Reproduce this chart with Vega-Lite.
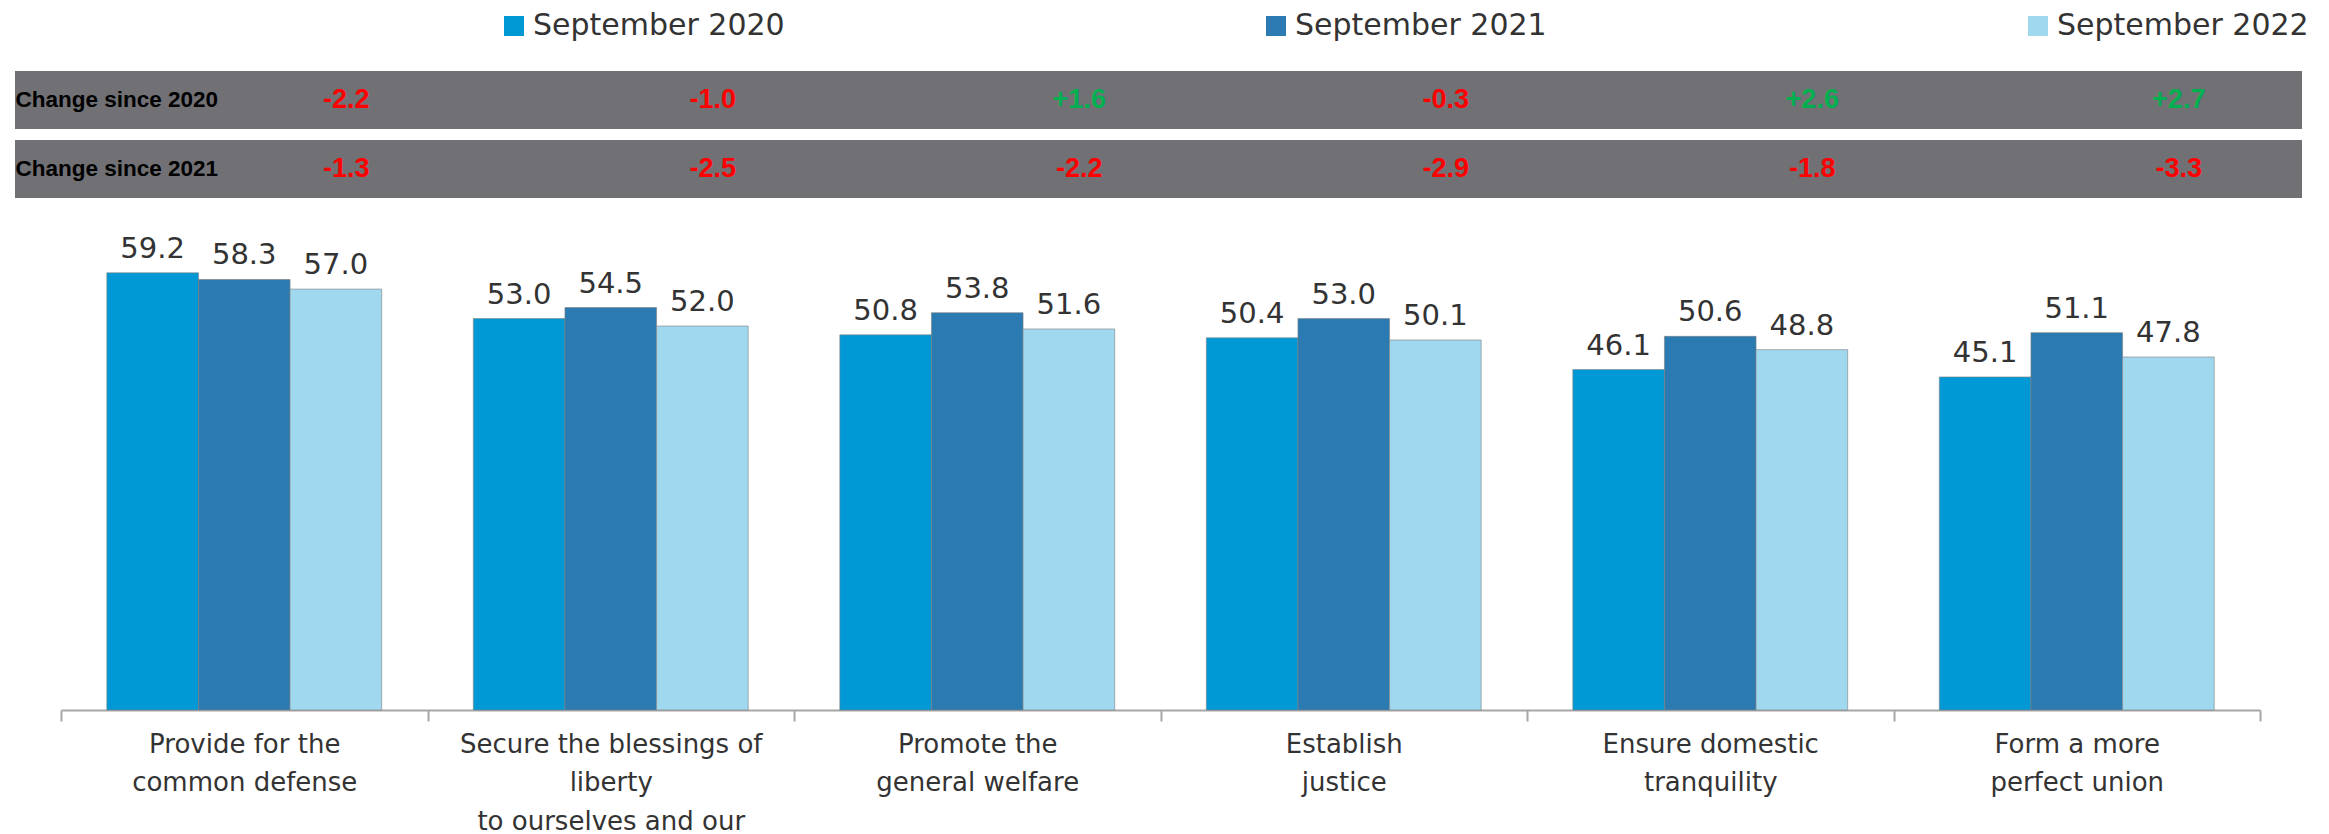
{
  "$schema": "https://vega.github.io/schema/vega-lite/v6.json",
  "padding": {"left": 15, "top": 11, "right": 27, "bottom": 0},
  "background": "white",
  "spacing": 32,
  "config": {"view": {"stroke": null}, "font": "DejaVu Sans"},
  "datasets": {
    "bars": [
      {"cat": "Provide for the\ncommon defense", "series": "September 2020", "value": 59.2},
      {"cat": "Provide for the\ncommon defense", "series": "September 2021", "value": 58.3},
      {"cat": "Provide for the\ncommon defense", "series": "September 2022", "value": 57.0},
      {"cat": "Secure the blessings of\nliberty\nto ourselves and our", "series": "September 2020", "value": 53.0},
      {"cat": "Secure the blessings of\nliberty\nto ourselves and our", "series": "September 2021", "value": 54.5},
      {"cat": "Secure the blessings of\nliberty\nto ourselves and our", "series": "September 2022", "value": 52.0},
      {"cat": "Promote the\ngeneral welfare", "series": "September 2020", "value": 50.8},
      {"cat": "Promote the\ngeneral welfare", "series": "September 2021", "value": 53.8},
      {"cat": "Promote the\ngeneral welfare", "series": "September 2022", "value": 51.6},
      {"cat": "Establish\njustice", "series": "September 2020", "value": 50.4},
      {"cat": "Establish\njustice", "series": "September 2021", "value": 53.0},
      {"cat": "Establish\njustice", "series": "September 2022", "value": 50.1},
      {"cat": "Ensure domestic\ntranquility", "series": "September 2020", "value": 46.1},
      {"cat": "Ensure domestic\ntranquility", "series": "September 2021", "value": 50.6},
      {"cat": "Ensure domestic\ntranquility", "series": "September 2022", "value": 48.8},
      {"cat": "Form a more\nperfect union", "series": "September 2020", "value": 45.1},
      {"cat": "Form a more\nperfect union", "series": "September 2021", "value": 51.1},
      {"cat": "Form a more\nperfect union", "series": "September 2022", "value": 47.8}
    ],
    "changes": [
      {"cat": "Provide for the\ncommon defense", "row": "Change since 2020", "change": -2.2, "label": "-2.2"},
      {"cat": "Secure the blessings of\nliberty\nto ourselves and our", "row": "Change since 2020", "change": -1.0, "label": "-1.0"},
      {"cat": "Promote the\ngeneral welfare", "row": "Change since 2020", "change": 1.6, "label": "+1.6"},
      {"cat": "Establish\njustice", "row": "Change since 2020", "change": -0.3, "label": "-0.3"},
      {"cat": "Ensure domestic\ntranquility", "row": "Change since 2020", "change": 2.6, "label": "+2.6"},
      {"cat": "Form a more\nperfect union", "row": "Change since 2020", "change": 2.7, "label": "+2.7"},
      {"cat": "Provide for the\ncommon defense", "row": "Change since 2021", "change": -1.3, "label": "-1.3"},
      {"cat": "Secure the blessings of\nliberty\nto ourselves and our", "row": "Change since 2021", "change": -2.5, "label": "-2.5"},
      {"cat": "Promote the\ngeneral welfare", "row": "Change since 2021", "change": -2.2, "label": "-2.2"},
      {"cat": "Establish\njustice", "row": "Change since 2021", "change": -2.9, "label": "-2.9"},
      {"cat": "Ensure domestic\ntranquility", "row": "Change since 2021", "change": -1.8, "label": "-1.8"},
      {"cat": "Form a more\nperfect union", "row": "Change since 2021", "change": -3.3, "label": "-3.3"}
    ]
  },
  "vconcat": [
    {
      "width": 2287,
      "height": 127,
      "data": {"name": "changes"},
      "layer": [
        {
          "mark": {"type": "rect", "color": "#717175"},
          "encoding": {
            "y": {
              "field": "row", "type": "nominal",
              "sort": ["Change since 2020", "Change since 2021"],
              "scale": {"paddingInner": 0.173, "paddingOuter": 0},
              "axis": {
                "title": null, "orient": "left", "domain": false, "ticks": false,
                "labelAlign": "left", "labelPadding": 0, "labelFont": "Liberation Sans",
                "labelFontWeight": "bold", "labelFontSize": 22.5, "labelColor": "#000000",
                "labelLimit": 0, "zindex": 1
              }
            }
          }
        },
        {
          "mark": {"type": "text", "font": "Liberation Sans", "fontWeight": "bold", "fontSize": 27, "dx": 102},
          "encoding": {
            "x": {
              "field": "cat", "type": "nominal",
              "sort": ["Provide for the\ncommon defense", "Secure the blessings of\nliberty\nto ourselves and our", "Promote the\ngeneral welfare", "Establish\njustice", "Ensure domestic\ntranquility", "Form a more\nperfect union"],
              "scale": {"range": [46, 2245], "paddingInner": 0, "paddingOuter": 0},
              "axis": null
            },
            "y": {"field": "row", "type": "nominal", "sort": ["Change since 2020", "Change since 2021"]},
            "text": {"field": "label"},
            "color": {"condition": {"test": "datum.change > 0", "value": "#00B050"}, "value": "#FF0000"}
          }
        }
      ]
    },
    {
      "width": 2287,
      "height": 480,
      "data": {"name": "bars"},
      "encoding": {
        "x": {
          "field": "cat", "type": "nominal",
          "sort": ["Provide for the\ncommon defense", "Secure the blessings of\nliberty\nto ourselves and our", "Promote the\ngeneral welfare", "Establish\njustice", "Ensure domestic\ntranquility", "Form a more\nperfect union"],
          "scale": {"range": [46, 2245], "paddingInner": 0, "paddingOuter": 0},
          "axis": {
            "title": null, "labelAngle": 0, "tickBand": "extent",
            "labelExpr": "split(datum.label, '\\n')",
            "labelFont": "DejaVu Sans", "labelFontSize": 26, "labelColor": "#333333",
            "labelLineHeight": 38.5, "labelPadding": 10, "labelLimit": 0,
            "domainColor": "#a6a6a6", "domainWidth": 2,
            "tickColor": "#a6a6a6", "tickWidth": 2, "tickSize": 11, "grid": false
          }
        },
        "xOffset": {
          "field": "series", "type": "nominal",
          "sort": ["September 2020", "September 2021", "September 2022"],
          "scale": {"paddingInner": 0, "paddingOuter": 0.5}
        },
        "y": {
          "field": "value", "type": "quantitative",
          "scale": {"domain": [0, 65], "nice": false},
          "axis": null
        }
      },
      "layer": [
        {
          "mark": {"type": "bar", "stroke": "#7f7f7f", "strokeWidth": 1, "strokeOpacity": 0.6},
          "encoding": {
            "color": {
              "field": "series", "type": "nominal",
              "scale": {"domain": ["September 2020", "September 2021", "September 2022"], "range": ["#0099D6", "#2B7BB2", "#A0D8EF"]},
              "legend": {
                "title": null, "orient": "none", "legendX": 484, "legendY": -60,
                "direction": "horizontal", "symbolType": "square", "symbolSize": 400,
                "symbolStrokeWidth": 0, "labelFont": "DejaVu Sans", "labelFontSize": 30,
                "labelColor": "#333333", "labelOffset": 4, "columnPadding": 476, "labelLimit": 0
              }
            }
          }
        },
        {
          "mark": {"type": "text", "baseline": "bottom", "dy": -9, "fontSize": 29, "font": "DejaVu Sans", "color": "#333333"},
          "encoding": {
            "text": {"field": "value", "type": "quantitative", "format": ".1f"}
          }
        }
      ]
    }
  ]
}
